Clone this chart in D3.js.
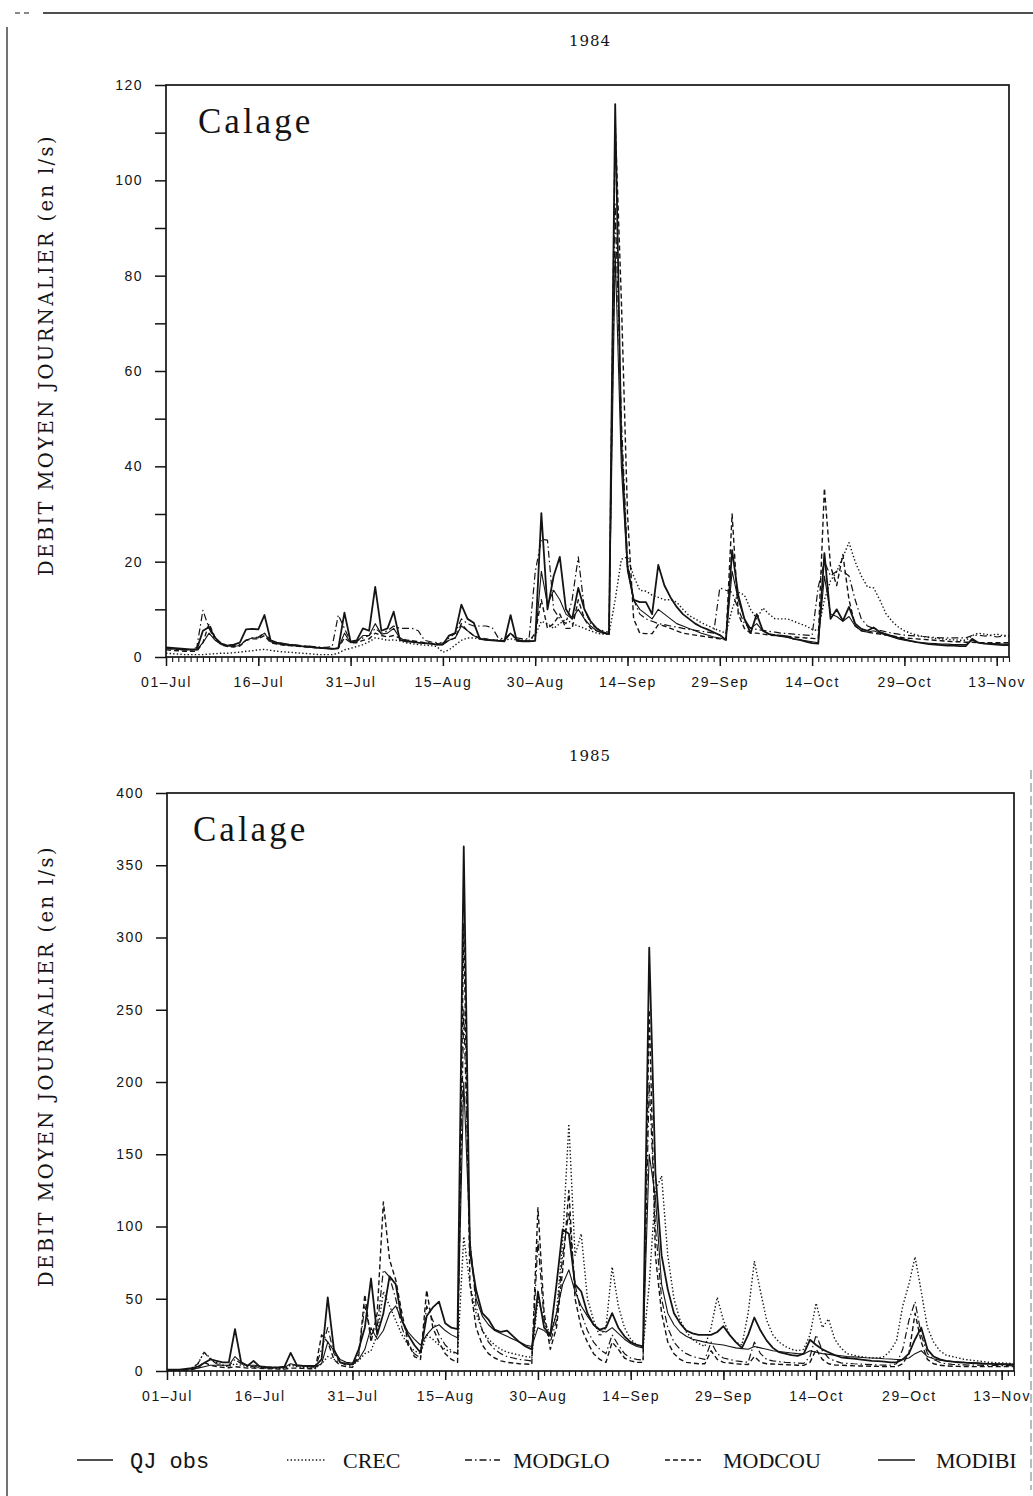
<!DOCTYPE html>
<html>
<head>
<meta charset="utf-8">
<script src="https://cdn.jsdelivr.net/npm/d3@7"></script>
<style>
  body { margin: 0; background: #fff; }
  svg { display: block; }
</style>
</head>
<body>
<svg id="fig" width="1033" height="1496"></svg>
<script>
// day index 0 = 01-Jul, one value per day up to 15-Nov
const dayCount = 138;
const tickDays = [0, 15, 30, 45, 60, 75, 90, 105, 120, 135];
const tickLabels = ["01–Jul", "16–Jul", "31–Jul", "15–Aug", "30–Aug", "14–Sep", "29–Sep", "14–Oct", "29–Oct", "13–Nov"];
const seriesNames = ["QJ obs", "CREC", "MODGLO", "MODCOU", "MODIBI"];
const years = ["1984", "1985"];

// ---- 1984 (l/s) ----
const obs84 = [2.0,1.9,1.8,1.7,1.6,1.6,5.5,6.3,4.0,2.8,
  2.4,2.6,3.0,5.8,5.9,5.8,8.8,3.5,3.0,2.8,
  2.6,2.5,2.3,2.2,2.0,1.9,1.8,1.7,1.8,9.3,
  3.2,3.5,6.0,5.5,14.7,5.5,6.0,9.5,3.6,3.3,
  3.2,3.0,2.9,2.8,2.6,2.6,4.5,5.0,11.0,8.0,
  7.2,3.8,3.6,3.5,3.4,3.3,8.8,3.4,3.3,3.3,
  3.4,30.2,10.0,17.0,21.0,10.0,8.0,14.5,10.0,7.5,
  6.0,5.2,4.8,116,45,19,12,11.5,11.5,9.0,
  19.3,15,12.5,10.5,9.0,8.0,7.0,6.3,5.8,5.2,
  4.6,3.6,22.4,13,8,5.0,9.0,5.5,4.8,4.6,
  4.5,4.3,3.8,3.6,3.2,2.9,2.8,21.8,8.0,10.0,
  7.6,10.5,7.0,5.9,5.5,6.2,5.2,4.8,4.4,4.0,
  3.7,3.4,3.1,2.9,2.7,2.6,2.5,2.4,2.4,2.3,
  2.3,3.8,3.0,2.8,2.7,2.6,2.5,2.5];
const crec84 = [0.8,0.7,0.6,0.5,0.5,0.5,0.5,0.6,0.7,0.8,
  0.8,0.9,1.0,1.2,1.3,1.5,1.6,1.4,1.2,1.1,
  1.0,0.9,0.8,0.7,0.6,0.5,0.5,0.5,0.8,1.5,
  1.8,2.2,2.6,3.2,4.0,3.8,3.5,3.6,3.4,3.0,
  2.8,2.6,2.5,2.4,2.2,1.0,1.5,2.5,3.5,4.0,
  4.0,3.8,3.7,3.6,3.6,3.5,3.8,3.6,3.5,3.5,
  4.5,7.5,7,6,7,8,7,6.5,6,5.5,
  5,4.8,4.8,12,20.5,21,17,14,13.8,13,
  12.5,12,12,11.5,10,8.7,8,7.2,6.6,6,
  5.5,5,10,13.6,13,10,8,10.3,9,8,
  8,8,7.5,7,6.5,5.8,5.5,12,16,17.9,
  21,24,20,17,14.7,14.5,12,9.1,7.5,6.3,
  5.5,5,4.6,4.3,4.1,3.9,3.8,3.7,3.6,3.5,
  3.5,4.5,5,4.8,4.6,4.8,4.5,4.5];
const modglo84 = [1.8,1.7,1.6,1.5,1.5,2,9.8,6,3.5,2.8,
  2.5,2.4,2.6,3.5,4,4.2,5,3.5,3,2.8,
  2.6,2.5,2.4,2.3,2.2,2.1,2.0,2.2,8.8,6,
  3.2,3.4,4,4.5,6,5,5.5,6.5,6,6,
  6,5.5,3.5,3.2,3,2.9,4,5,8,7,
  6.5,6.5,6.5,6.2,4,3.8,5,4,3.8,3.8,
  17.8,24.7,24.5,10,8,7,12,21,10,7,
  6,5.5,5.2,95,50,20,12,9,8,7.5,
  7,6.8,6.5,6.3,6,5.8,5.6,5.4,5.2,5,
  14.5,14,13.6,10,7,6,5.8,5.6,5.4,5.2,
  5,4.9,4.8,4.7,4.6,4.5,14.7,20,17,18,
  18,17,12,8,6.5,6,5.6,5.3,5,4.8,
  4.6,4.5,4.4,4.3,4.2,4.1,4,4,4,4,
  4,4.5,4.6,4.4,4.5,4.2,4.4,4.2];
const modcou84 = [1.5,1.4,1.3,1.2,1.2,1.2,3,7,4,2.5,
  2.2,2.1,2.3,3.5,3.8,3.8,4.5,3,2.7,2.5,
  2.4,2.3,2.2,2.1,2.0,1.9,1.8,1.8,1.9,4,
  3,3,3.5,3.8,5,4.5,4.2,4.5,4,3.6,
  3.4,3.2,3.0,2.9,2.8,2.7,3.5,4,7,5.5,
  4.5,4,3.8,3.6,3.5,3.4,5,3.6,3.4,3.3,
  5,12,6,7,9,6,6,12,8,6,
  5.5,5,4.8,112,75,30,8,5,4.9,4.9,
  6.8,6.5,6,5.5,5,4.8,4.6,4.4,4.2,4,
  3.8,3.6,30,9,6,5,5,4.8,4.6,4.5,
  4.4,4.3,4.2,4.1,4,3.9,3.8,35.4,19,15,
  21.5,12,6.5,5.5,5.2,5,4.8,4.6,4.4,4.2,
  4.0,3.9,3.8,3.7,3.6,3.5,3.4,3.3,3.2,3.2,
  3.1,3.1,3.0,3.0,3.0,3.0,3.0,3.0];
const modibi84 = [1.8,1.7,1.6,1.5,1.5,1.5,3.0,5.0,3.5,2.6,
  2.3,2.2,2.4,3.5,4.0,4.0,5.0,3.2,2.8,2.6,
  2.4,2.3,2.2,2.1,2.0,1.9,1.8,1.7,1.8,5.0,
  3.0,3.2,4.5,4.5,7.0,4.8,5.0,6.0,4.0,3.4,
  3.2,3.0,2.9,2.8,2.6,2.6,3.5,4.0,6.5,5.5,
  4.5,3.8,3.6,3.5,3.4,3.3,5.0,3.6,3.4,3.3,
  3.4,18,11,14,12,9,8,10,8,6.5,
  5.5,5.0,4.8,85,40,18,12,10,9,8,
  10,9,8,7,6.5,6,5.5,5,4.6,4.2,
  4,3.6,18,12,8,6,7,5.5,4.8,4.5,
  4.3,4.1,3.8,3.6,3.4,3.2,3.0,17,9,8.5,
  7.5,8.5,6.5,5.5,5.2,5.5,5.0,4.6,4.2,3.8,
  3.5,3.3,3.1,3.0,2.9,2.8,2.7,2.7,2.6,2.6,
  2.6,3.5,3.0,2.9,2.8,2.8,2.7,2.7];

// ---- 1985 (l/s) ----
const obs85 = [1,1,1,1.5,2,3,5.5,8,7,6,
  6,29,6,3.5,7,3,2.3,2.2,2.5,3,
  12.5,4,3.5,3.5,3.5,8,51,15,6,5,
  4.6,15,30,64,25,40,65.5,60,35,25,
  18,12.8,38,44,48,33,30,29,363,82,
  56,40,35.6,28.6,27,28,24,20,17,15,
  55,30,25,60,98,95,60,55,40,32,
  28.6,30,40,30,24,20,18,17,293,137,
  80,56.5,40,33,28,26,25,25,25,27,
  31,25,20,16,25,37,28,21,16,13,
  12,11,10.5,12,21.6,18,15,13,11,9.5,
  9,8.5,8,7.5,7,6.8,6.5,6,6,8,
  12,22,30,15,10,8,7,6.5,6,5.8,
  5.5,5.3,5,4.9,4.8,4.6,4.5,4.4];
const crec85 = [0.3,0.3,0.5,1,2,5,13,9,6,4,
  3,5,4,3,2.5,2.3,2,1.8,1.7,1.6,
  4,3,2.5,2.2,2,5,10,8,6,5,
  4.5,7,12,14,25,55,45,35,25,18,
  14,12,25,22,18,15,13,12,93,60,
  40,28,22,18,15,13,12,11,10,9.5,
  50,35,25,40,90,171,80,95,50,35,
  24,30,72,45,30,22,18,16,60,125,
  135,80,50,35,27,22,19,17,30,51,
  35,25,20,18,40,76,55,35,25,20,
  17,15,14,15,25,47,30,36,22,16,
  12,11,10,9.5,9,9,10,14,21,45,
  60,79,55,30,20,14,11,10,9,8,
  7.5,7,6.5,6,5.8,5.6,5.4,5.2];
const modglo85 = [0.5,0.5,0.8,1,2,5,13,8,5,4,
  3.5,8,5,3.5,3,2.8,2.6,2.5,2.4,2.3,
  5,3.5,3,2.8,2.6,15,30,12,6,4,
  3.5,12,45,25,30,70,65,50,30,18,
  12,9,45,35,25,18,14,12,250,90,
  45,28,20,15,12,10,9,8,7.5,7,
  90,35,20,35,80,110,60,40,28,20,
  15,12,25,18,12,9,8,7.5,200,100,
  50,30,20,15,12,10,9,8,20,12,
  9,8,7,6.5,6,20,12,8,7,6.5,
  6,5.8,5.5,5.3,10,25,14,9,7,5.6,
  5.3,5,4.8,4.6,4.4,4.2,4,4,5,15,
  35,48,25,12,8,6,5,4.6,4.4,4.2,
  4,4,3.9,3.8,3.8,3.7,3.7,3.6];
const modcou85 = [0.5,0.5,0.5,0.5,1,2,6,4,3,2.5,
  2.2,3,2.5,2,2,1.8,1.6,1.5,1.4,1.3,
  2,2,1.8,1.6,1.5,25,20,8,4,3,
  2.5,10,53,20,40,117,77,63,40,20,
  10,8,56,30,20,12,8,6,310,60,
  30,18,12,9,7,6,5.5,5,4.8,4.6,
  113,40,15,30,70,125,50,30,20,12,
  8,6,20,15,9,7,6,6,250,80,
  40,20,12,8,6,5.5,5,5,14,8,
  6,5.5,5,4.6,4.5,10,6,5,4.8,4.6,
  4.4,4.2,4,3.9,6,15,8,5,4.2,4,
  3.8,3.6,3.5,3.4,3.3,3.2,3.1,3,3,5,
  12,40,20,8,5,4,3.5,3.3,3.2,3.1,
  3,3,3,3,3,3,3,3];
const modibi85 = [1,1,1,1.2,1.5,2,3,4,4,4,
  4,10,6,4,4,3.5,3,2.8,2.6,2.5,
  5,4,3.5,3.2,3,5,20,14,8,6,
  5.5,8,15,30,22,28,40,45,35,27,
  22,18,25,30,32,28,25,23,200,90,
  50,38,32,28,26,24,22,20,18,17,
  30,28,24,40,60,70,55,45,38,32,
  28,27,30,26,22,19,17,16,150,120,
  60,40,32,27,24,22,21,20,19,18.5,
  18,17,16,15.5,15,17,16,15,14,13.5,
  13,12.5,12,11.8,14,13,12,11.5,11,10.5,
  10,9.8,9.5,9.2,9,8.8,8.5,8.3,8,8,
  9,12,14,10,8.5,7.5,7,6.6,6.3,6,
  5.8,5.6,5.4,5.2,5,4.9,4.8,4.7];

// line styles per series (same order as seriesNames)
const dashes = ["none", "1.4,2.2", "7,3,1.5,3", "5,3", "none"];
const widths = [1.8, 1.4, 1.2, 1.4, 1.1];
const ink = "#141414";

const svg = d3.select("#fig");
svg.append("rect").attr("width", 1033).attr("height", 1496).attr("fill", "#fff");

// scanned page border
svg.append("line").attr("x1", 15).attr("x2", 31).attr("y1", 13).attr("y2", 13)
  .attr("stroke", ink).attr("stroke-width", 1.2).attr("stroke-dasharray", "5,4");
svg.append("line").attr("x1", 43).attr("x2", 1033).attr("y1", 13).attr("y2", 13)
  .attr("stroke", ink).attr("stroke-width", 1.3);
svg.append("line").attr("x1", 7).attr("x2", 7).attr("y1", 27).attr("y2", 1496)
  .attr("stroke", ink).attr("stroke-width", 1.2);
svg.append("line").attr("x1", 1031).attr("x2", 1031).attr("y1", 770).attr("y2", 1490)
  .attr("stroke", "#777").attr("stroke-width", 1).attr("stroke-dasharray", "9,4");

function drawPanel(p) {
  const x = d3.scaleLinear().domain([0, dayCount - 1]).range([p.left, p.right]);
  const y = d3.scaleLinear().domain([0, p.yMax]).range([p.bottom, p.top]);
  const g = svg.append("g");

  g.append("text")
    .attr("x", 590).attr("y", p.titleY)
    .attr("text-anchor", "middle")
    .style("font-family", "'DejaVu Serif', serif")
    .style("font-size", "15px")
    .style("letter-spacing", "1px")
    .attr("fill", ink)
    .text(p.year);

  // y axis title
  g.append("text")
    .attr("transform", "translate(" + 53 + "," + ((p.top + p.bottom) / 2 - 16) + ") rotate(-90)")
    .attr("text-anchor", "middle")
    .style("font-family", "'DejaVu Serif', serif")
    .style("font-size", "19.5px")
    .style("letter-spacing", "2.4px")
    .attr("fill", ink)
    .text("DEBIT MOYEN JOURNALIER (en l/s)");

  // ticks at every yStep, labels only every labelStep
  const yAxis = g.append("g")
    .attr("transform", "translate(" + p.left + ",0)")
    .call(d3.axisLeft(y).tickValues(d3.range(0, p.yMax + 1, p.yStep)).tickSize(11).tickPadding(12)
      .tickFormat(d => d % p.labelStep === 0 ? d : ""));
  yAxis.select(".domain").remove();
  yAxis.selectAll("line").attr("stroke", ink).attr("stroke-width", 1.5);
  yAxis.selectAll("text")
    .style("font-family", "'Liberation Sans', Arial, sans-serif")
    .style("font-size", "14px")
    .style("letter-spacing", "1.5px")
    .attr("fill", ink);

  // daily minor ticks
  const minor = g.append("g")
    .attr("transform", "translate(0," + p.bottom + ")")
    .call(d3.axisBottom(x).tickValues(d3.range(dayCount)).tickSize(5).tickFormat(""));
  minor.select(".domain").remove();
  minor.selectAll("line").attr("stroke", ink).attr("stroke-width", 1.1);

  const xAxis = g.append("g")
    .attr("transform", "translate(0," + p.bottom + ")")
    .call(d3.axisBottom(x).tickValues(tickDays).tickSize(9).tickPadding(11)
      .tickFormat((d, i) => tickLabels[i]));
  xAxis.select(".domain").remove();
  xAxis.selectAll("line").attr("stroke", ink).attr("stroke-width", 1.5);
  xAxis.selectAll("text")
    .style("font-family", "'Liberation Sans', Arial, sans-serif")
    .style("font-size", "14px")
    .style("letter-spacing", "1.6px")
    .attr("fill", ink);

  // frame
  g.append("rect")
    .attr("x", p.left).attr("y", p.top)
    .attr("width", p.right - p.left).attr("height", p.bottom - p.top)
    .attr("fill", "none").attr("stroke", ink).attr("stroke-width", 1.7);

  g.append("text")
    .attr("x", p.calageX).attr("y", p.top + 48)
    .style("font-family", "'Liberation Serif', serif")
    .style("font-size", "35px")
    .style("letter-spacing", "3px")
    .attr("fill", ink)
    .text("Calage");

  const line = d3.line()
    .x((d, i) => x(i))
    .y(d => y(d));

  // draw simulations first, observations last
  [1, 2, 3, 4, 0].forEach(k => {
    g.append("path")
      .datum(p.values[k])
      .attr("d", line)
      .attr("fill", "none")
      .attr("stroke", ink)
      .attr("stroke-width", widths[k])
      .attr("stroke-dasharray", dashes[k])
      .attr("stroke-linejoin", "round");
  });
}

drawPanel({
  year: years[0], titleY: 46, top: 85, bottom: 657, left: 166, right: 1009,
  yMax: 120, yStep: 10, labelStep: 20, calageX: 198,
  values: [obs84, crec84, modglo84, modcou84, modibi84]
});
drawPanel({
  year: years[1], titleY: 761, top: 793, bottom: 1371, left: 167, right: 1014,
  yMax: 400, yStep: 50, labelStep: 50, calageX: 193,
  values: [obs85, crec85, modglo85, modcou85, modibi85]
});

// legend
const legendY = 1460;
const legendPos = [
  { x1: 77, x2: 113, tx: 130, font: "'Liberation Mono', monospace" },
  { x1: 287, x2: 325, tx: 343, font: "'Liberation Serif', serif" },
  { x1: 465, x2: 500, tx: 513, font: "'Liberation Serif', serif" },
  { x1: 665, x2: 701, tx: 723, font: "'Liberation Serif', serif" },
  { x1: 878, x2: 915, tx: 936, font: "'Liberation Serif', serif" }
];
const legend = svg.append("g");
seriesNames.forEach((name, k) => {
  const lp = legendPos[k];
  legend.append("line")
    .attr("x1", lp.x1).attr("x2", lp.x2)
    .attr("y1", legendY).attr("y2", legendY)
    .attr("stroke", ink)
    .attr("stroke-width", k === 0 || k === 4 ? 1.7 : 1.3)
    .attr("stroke-dasharray", dashes[k]);
  legend.append("text")
    .attr("x", lp.tx).attr("y", legendY + 8)
    .style("font-family", lp.font)
    .style("font-size", "22px")
    .attr("fill", ink)
    .text(name);
});
</script>
</body>
</html>
